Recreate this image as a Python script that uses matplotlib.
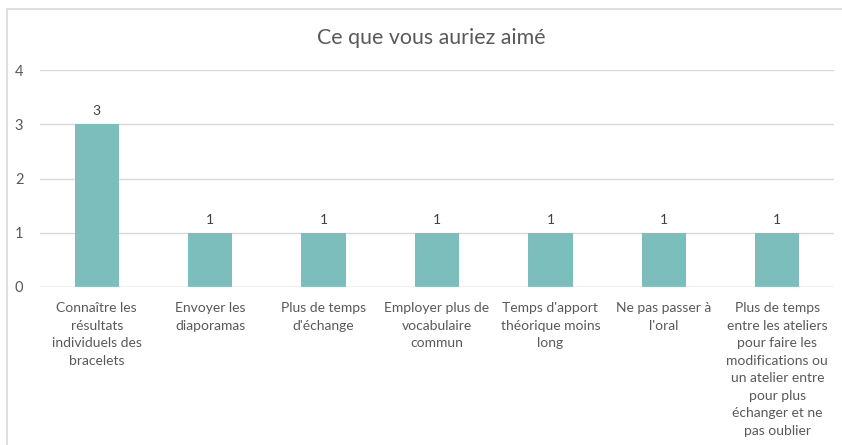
import matplotlib.pyplot as plt
from matplotlib.patches import Rectangle

categories = [
    "Connaître les\nrésultats\nindividuels des\nbracelets",
    "Envoyer les\ndiaporamas",
    "Plus de temps\nd'échange",
    "Employer plus de\nvocabulaire\ncommun",
    "Temps d'apport\nthéorique moins\nlong",
    "Ne pas passer à\nl'oral",
    "Plus de temps\nentre les ateliers\npour faire les\nmodifications ou\nun atelier entre\npour plus\néchanger et ne\npas oublier",
]
values = [3, 1, 1, 1, 1, 1, 1]
yticks = [0, 1, 2, 3, 4]

bar_color = '#7BBEBB'
text_color = '#595959'
grid_color = '#D9D9D9'

plt.rcParams['font.family'] = ['Lato', 'DejaVu Sans']

fig = plt.figure(figsize=(8.42, 4.45), dpi=100)
ax = fig.add_axes([40 / 842, 1 - 287 / 445, (834 - 40) / 842, (287 - 70) / 445])

x = range(len(categories))
bars = ax.bar(x, values, width=0.39, color=bar_color, zorder=3)

for b, v in zip(bars, values):
    ax.annotate(str(v), (b.get_x() + b.get_width() / 2, v), xytext=(0, 5),
                textcoords='offset points', ha='center', va='bottom',
                fontsize=10, color='#404040')

ax.set_xlim(-0.5, len(categories) - 0.5)
ax.set_ylim(0, 4)
ax.set_yticks(yticks)
ax.set_xticks(list(x))
ax.set_xticklabels(categories, fontsize=10, color=text_color)
for lbl in ax.get_xticklabels():
    lbl.set_linespacing(1.55)
ax.tick_params(axis='y', labelsize=10.5, labelcolor=text_color, length=0, pad=12)
ax.tick_params(axis='x', length=0, pad=11)
ax.yaxis.grid(True, color=grid_color, linewidth=1, zorder=0)
for s in ax.spines.values():
    s.set_visible(False)
ax.axhline(0, color=grid_color, linewidth=1, zorder=4)

fig.text(0.512, 1 - 38 / 445, "Ce que vous auriez aimé", ha='center', va='center',
         fontsize=15.4, color=text_color)

# chart frame
fig.patches.append(Rectangle((7 / 842, -0.1), 1.0, 1.1 - 9.5 / 445, transform=fig.transFigure,
                             fill=False, edgecolor='#D9D9D9', linewidth=1.2))

fig.savefig('out.png', dpi=100)
